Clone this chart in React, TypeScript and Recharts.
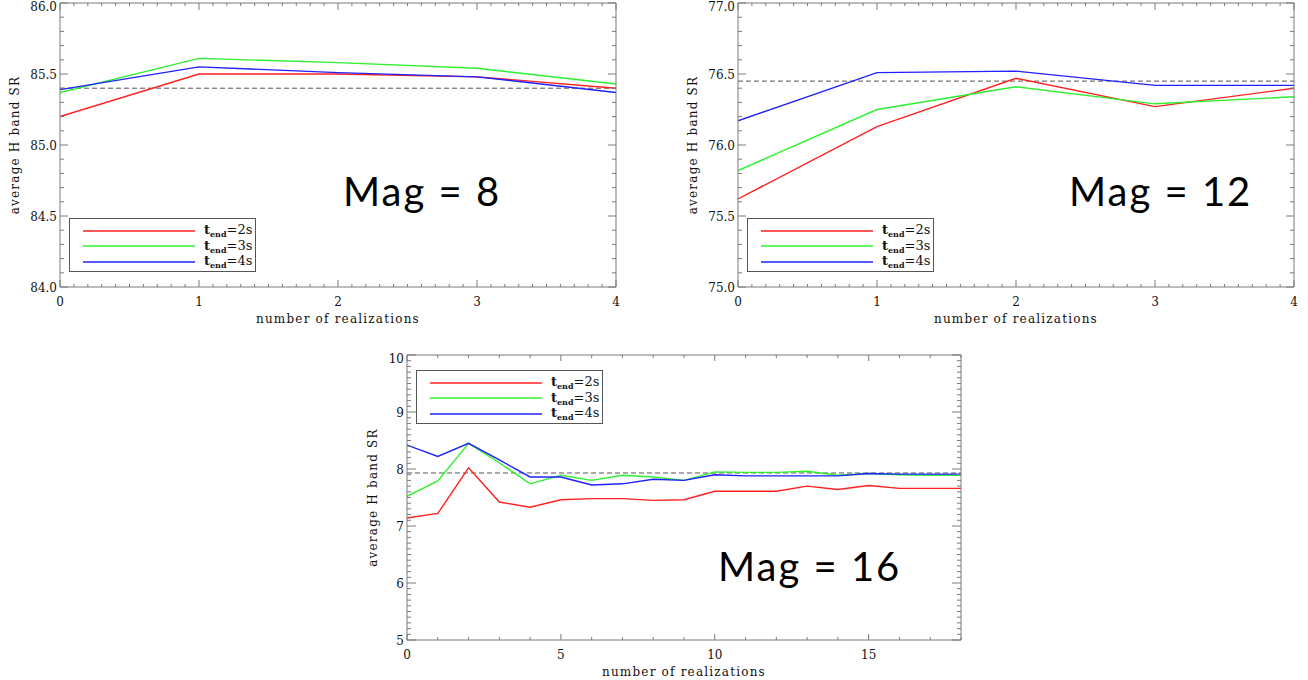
import React from 'react';
import { LineChart, Line, XAxis, YAxis, ReferenceLine, Legend } from 'recharts';

// x values (number of realizations)
const realizationsShort = [0, 1, 2, 3, 4];
const realizationsLong = [0, 1, 2, 3, 4, 5, 6, 7, 8, 9, 10, 11, 12, 13, 14, 15, 16, 17, 18];

// Mag = 8
const mag8Tend2 = [85.2, 85.5, 85.5, 85.48, 85.4];
const mag8Tend3 = [85.37, 85.61, 85.58, 85.54, 85.43];
const mag8Tend4 = [85.39, 85.55, 85.51, 85.48, 85.37];
const mag8Ref = 85.4;

// Mag = 12
const mag12Tend2 = [75.62, 76.13, 76.47, 76.27, 76.4];
const mag12Tend3 = [75.82, 76.25, 76.41, 76.29, 76.34];
const mag12Tend4 = [76.17, 76.51, 76.52, 76.42, 76.42];
const mag12Ref = 76.45;

// Mag = 16
const mag16Tend2 = [7.14, 7.22, 8.02, 7.42, 7.33, 7.46, 7.48, 7.48, 7.45, 7.46, 7.61, 7.61, 7.61, 7.7, 7.64, 7.71, 7.66, 7.66, 7.66];
const mag16Tend3 = [7.52, 7.79, 8.45, 8.11, 7.74, 7.89, 7.8, 7.89, 7.86, 7.8, 7.95, 7.94, 7.94, 7.96, 7.89, 7.92, 7.9, 7.89, 7.89];
const mag16Tend4 = [8.42, 8.22, 8.45, 8.16, 7.86, 7.86, 7.72, 7.74, 7.82, 7.8, 7.9, 7.88, 7.88, 7.88, 7.88, 7.92, 7.91, 7.91, 7.91];
const mag16Ref = 7.93;

// tick labels
const xMajorShort = [0, 1, 2, 3, 4];
const xMajorLong = [0, 5, 10, 15];
const yMajor8 = [84.0, 84.5, 85.0, 85.5, 86.0];
const yMajor12 = [75.0, 75.5, 76.0, 76.5, 77.0];
const yMajor16 = [5, 6, 7, 8, 9, 10];

const tendLabels = ['2s', '3s', '4s'];
const colors = ['#ff2020', '#2ef02e', '#2020ff'];

const AXIS = '#7a7a7a';
const SERIF = '"DejaVu Serif", serif';

// minor tick positions along an axis
const steps = (from: number, to: number, step: number) => {
  const out: number[] = [];
  const n = Math.round((to - from) / step);
  for (let i = 0; i <= n; i++) out.push(Math.round((from + i * step) * 1000) / 1000);
  return out;
};

type Side = 'bottom' | 'top' | 'left' | 'right';

const makeTick = (side: Side, majors: number[], majorLen: number, minorLen: number, fmt?: (v: number) => string) =>
  (props: any) => {
    const { x, y, payload } = props;
    const v = payload.value;
    const major = majors.some((m) => Math.abs(m - v) < 1e-6);
    const len = major ? majorLen : minorLen;
    let line;
    if (side === 'bottom') line = <line x1={x} y1={y} x2={x} y2={y - len} stroke={AXIS} />;
    else if (side === 'top') line = <line x1={x} y1={y} x2={x} y2={y + len} stroke={AXIS} />;
    else if (side === 'left') line = <line x1={x} y1={y} x2={x + len} y2={y} stroke={AXIS} />;
    else line = <line x1={x} y1={y} x2={x - len} y2={y} stroke={AXIS} />;
    let label = null;
    if (major && fmt) {
      if (side === 'bottom')
        label = <text x={x} y={y + 19} textAnchor="middle" fontSize={12} fontFamily={SERIF} fill="#111">{fmt(v)}</text>;
      if (side === 'left') {
        // the top label sits a little lower, as in the original plot
        const top = Math.abs(v - majors[majors.length - 1]) < 1e-6;
        label = <text x={x - 3} y={y + (top ? 8 : 4.5)} textAnchor="end" fontSize={12} fontFamily={SERIF} fill="#111">{fmt(v)}</text>;
      }
    }
    return <g>{line}{label}</g>;
  };

const TendLegend = (props: any) => {
  const { payload } = props;
  return (
    <div style={{ boxSizing: 'border-box', width: 187, height: 54, border: '1px solid #555', paddingTop: 4 }}>
      {(payload || []).map((p: any, i: number) => (
        <div key={i} style={{ display: 'flex', alignItems: 'center', height: 15.5 }}>
          <svg width={134} height={10} style={{ display: 'block' }}>
            <line x1={13} y1={5} x2={125} y2={5} stroke={p.color} strokeWidth={1.5} />
          </svg>
          <span style={{ fontFamily: SERIF, fontSize: 13, color: '#111', whiteSpace: 'nowrap', lineHeight: '13px' }}>
            <b>t</b>
            <b style={{ fontSize: 8, position: 'relative', top: 3 }}>end</b>
            {'=' + String(p.value).split('=')[1]}
          </span>
        </div>
      ))}
    </div>
  );
};

type PanelProps = {
  left: number;
  top: number;
  height: number;
  rightWidth: number;
  xs: number[];
  series: number[][];
  refValue: number;
  xDomain: [number, number];
  xMajor: number[];
  xMinorStep: number;
  xMajorLen: number;
  yDomain: [number, number];
  yMajor: number[];
  yMinorStep: number;
  yMajorLen: number;
  yFmt: (v: number) => string;
  yLabelOffset: number;
  xLabelOffset: number;
  legendLeft: number;
  legendTop: number;
};

const Panel = (p: PanelProps) => {
  const data = p.xs.map((n, i) => ({ n, t2: p.series[0][i], t3: p.series[1][i], t4: p.series[2][i] }));
  const xTicks = steps(p.xDomain[0], p.xDomain[1], p.xMinorStep);
  const yTicks = steps(p.yDomain[0], p.yDomain[1], p.yMinorStep);
  const bottomH = p.height - 3 - (p.height === 330 ? 284 : 285);
  return (
    <div style={{ position: 'absolute', left: p.left, top: p.top }}>
      <LineChart width={630} height={p.height} data={data} margin={{ top: 0, right: 0, bottom: 0, left: 0 }}>
        <XAxis
          dataKey="n"
          type="number"
          domain={p.xDomain}
          ticks={xTicks}
          interval={0}
          allowDataOverflow
          height={bottomH}
          tickSize={0}
          tickMargin={0}
          tickLine={false}
          axisLine={{ stroke: AXIS }}
          tick={makeTick('bottom', p.xMajor, p.xMajorLen, 3, (v) => String(v))}
          label={{ value: 'number of realizations', position: 'insideBottom', offset: p.xLabelOffset, fontSize: 12, fontFamily: SERIF, fill: '#111', style: { letterSpacing: '1.2px' } }}
        />
        <XAxis
          xAxisId="top"
          orientation="top"
          type="number"
          domain={p.xDomain}
          ticks={xTicks}
          interval={0}
          allowDataOverflow
          height={3}
          tickSize={0}
          tickMargin={0}
          tickLine={false}
          axisLine={{ stroke: AXIS }}
          tick={makeTick('top', p.xMajor, p.xMajorLen, 3)}
        />
        <YAxis
          type="number"
          domain={p.yDomain}
          ticks={yTicks}
          interval={0}
          allowDataOverflow
          width={60}
          tickSize={0}
          tickMargin={0}
          tickLine={false}
          axisLine={{ stroke: AXIS }}
          tick={makeTick('left', p.yMajor, p.yMajorLen, 4, p.yFmt)}
          label={{ value: 'average H band SR', angle: -90, position: 'insideLeft', offset: p.yLabelOffset, fontSize: 12, fontFamily: SERIF, fill: '#111', style: { textAnchor: 'middle', letterSpacing: '1.2px' } }}
        />
        <YAxis
          yAxisId="right"
          orientation="right"
          type="number"
          domain={p.yDomain}
          ticks={yTicks}
          interval={0}
          allowDataOverflow
          width={p.rightWidth}
          tickSize={0}
          tickMargin={0}
          tickLine={false}
          axisLine={{ stroke: AXIS }}
          tick={makeTick('right', p.yMajor, p.yMajorLen, 4)}
        />
        <ReferenceLine y={p.refValue} stroke="#555" strokeDasharray="5 3" strokeWidth={1} ifOverflow="hidden" />
        {['t2', 't3', 't4'].map((k, i) => (
          <Line
            key={k}
            dataKey={k}
            name={'t_end=' + tendLabels[i]}
            stroke={colors[i]}
            strokeWidth={1.4}
            dot={false}
            activeDot={false}
            type="linear"
            isAnimationActive={false}
          />
        ))}
        <Legend
          layout="vertical"
          align="center"
          verticalAlign="middle"
          content={<TendLegend />}
          wrapperStyle={{ left: p.legendLeft, top: p.legendTop, width: 187, height: 54 }}
        />
      </LineChart>
    </div>
  );
};

const fmt1 = (v: number) => v.toFixed(1);
const fmt0 = (v: number) => String(v);

export default function App() {
  return (
    <div style={{ position: 'absolute', left: 0, top: 0, width: 1308, height: 680, background: '#fff', overflow: 'hidden' }}>
      <Panel
        left={0} top={0} height={330} rightWidth={14}
        xs={realizationsShort} series={[mag8Tend2, mag8Tend3, mag8Tend4]} refValue={mag8Ref}
        xDomain={[0, 4]} xMajor={xMajorShort} xMinorStep={0.1} xMajorLen={7}
        yDomain={[84, 86]} yMajor={yMajor8} yMinorStep={0.1} yMajorLen={8} yFmt={fmt1}
        yLabelOffset={15} xLabelOffset={7.5} legendLeft={69} legendTop={218}
      />
      <Panel
        left={678} top={0} height={330} rightWidth={14}
        xs={realizationsShort} series={[mag12Tend2, mag12Tend3, mag12Tend4]} refValue={mag12Ref}
        xDomain={[0, 4]} xMajor={xMajorShort} xMinorStep={0.1} xMajorLen={7}
        yDomain={[75, 77]} yMajor={yMajor12} yMinorStep={0.1} yMajorLen={8} yFmt={fmt1}
        yLabelOffset={15} xLabelOffset={7.5} legendLeft={69} legendTop={218}
      />
      <Panel
        left={347} top={352} height={328} rightWidth={16}
        xs={realizationsLong} series={[mag16Tend2, mag16Tend3, mag16Tend4]} refValue={mag16Ref}
        xDomain={[0, 18]} xMajor={xMajorLong} xMinorStep={1} xMajorLen={6}
        yDomain={[5, 10]} yMajor={yMajor16} yMinorStep={0.1} yMajorLen={9} yFmt={fmt0}
        yLabelOffset={25.5} xLabelOffset={4.5} legendLeft={69} legendTop={18}
      />
      <svg width={1308} height={680} style={{ position: 'absolute', left: 0, top: 0, pointerEvents: 'none' }}>
        <g fontFamily="Lato, sans-serif" fontSize={40} fill="#000">
          <text x={343} y={206} letterSpacing={2}>Mag = 8</text>
          <text x={1069} y={206} letterSpacing={2}>Mag = 12</text>
          <text x={718} y={581} letterSpacing={2}>Mag = 16</text>
        </g>
      </svg>
    </div>
  );
}
